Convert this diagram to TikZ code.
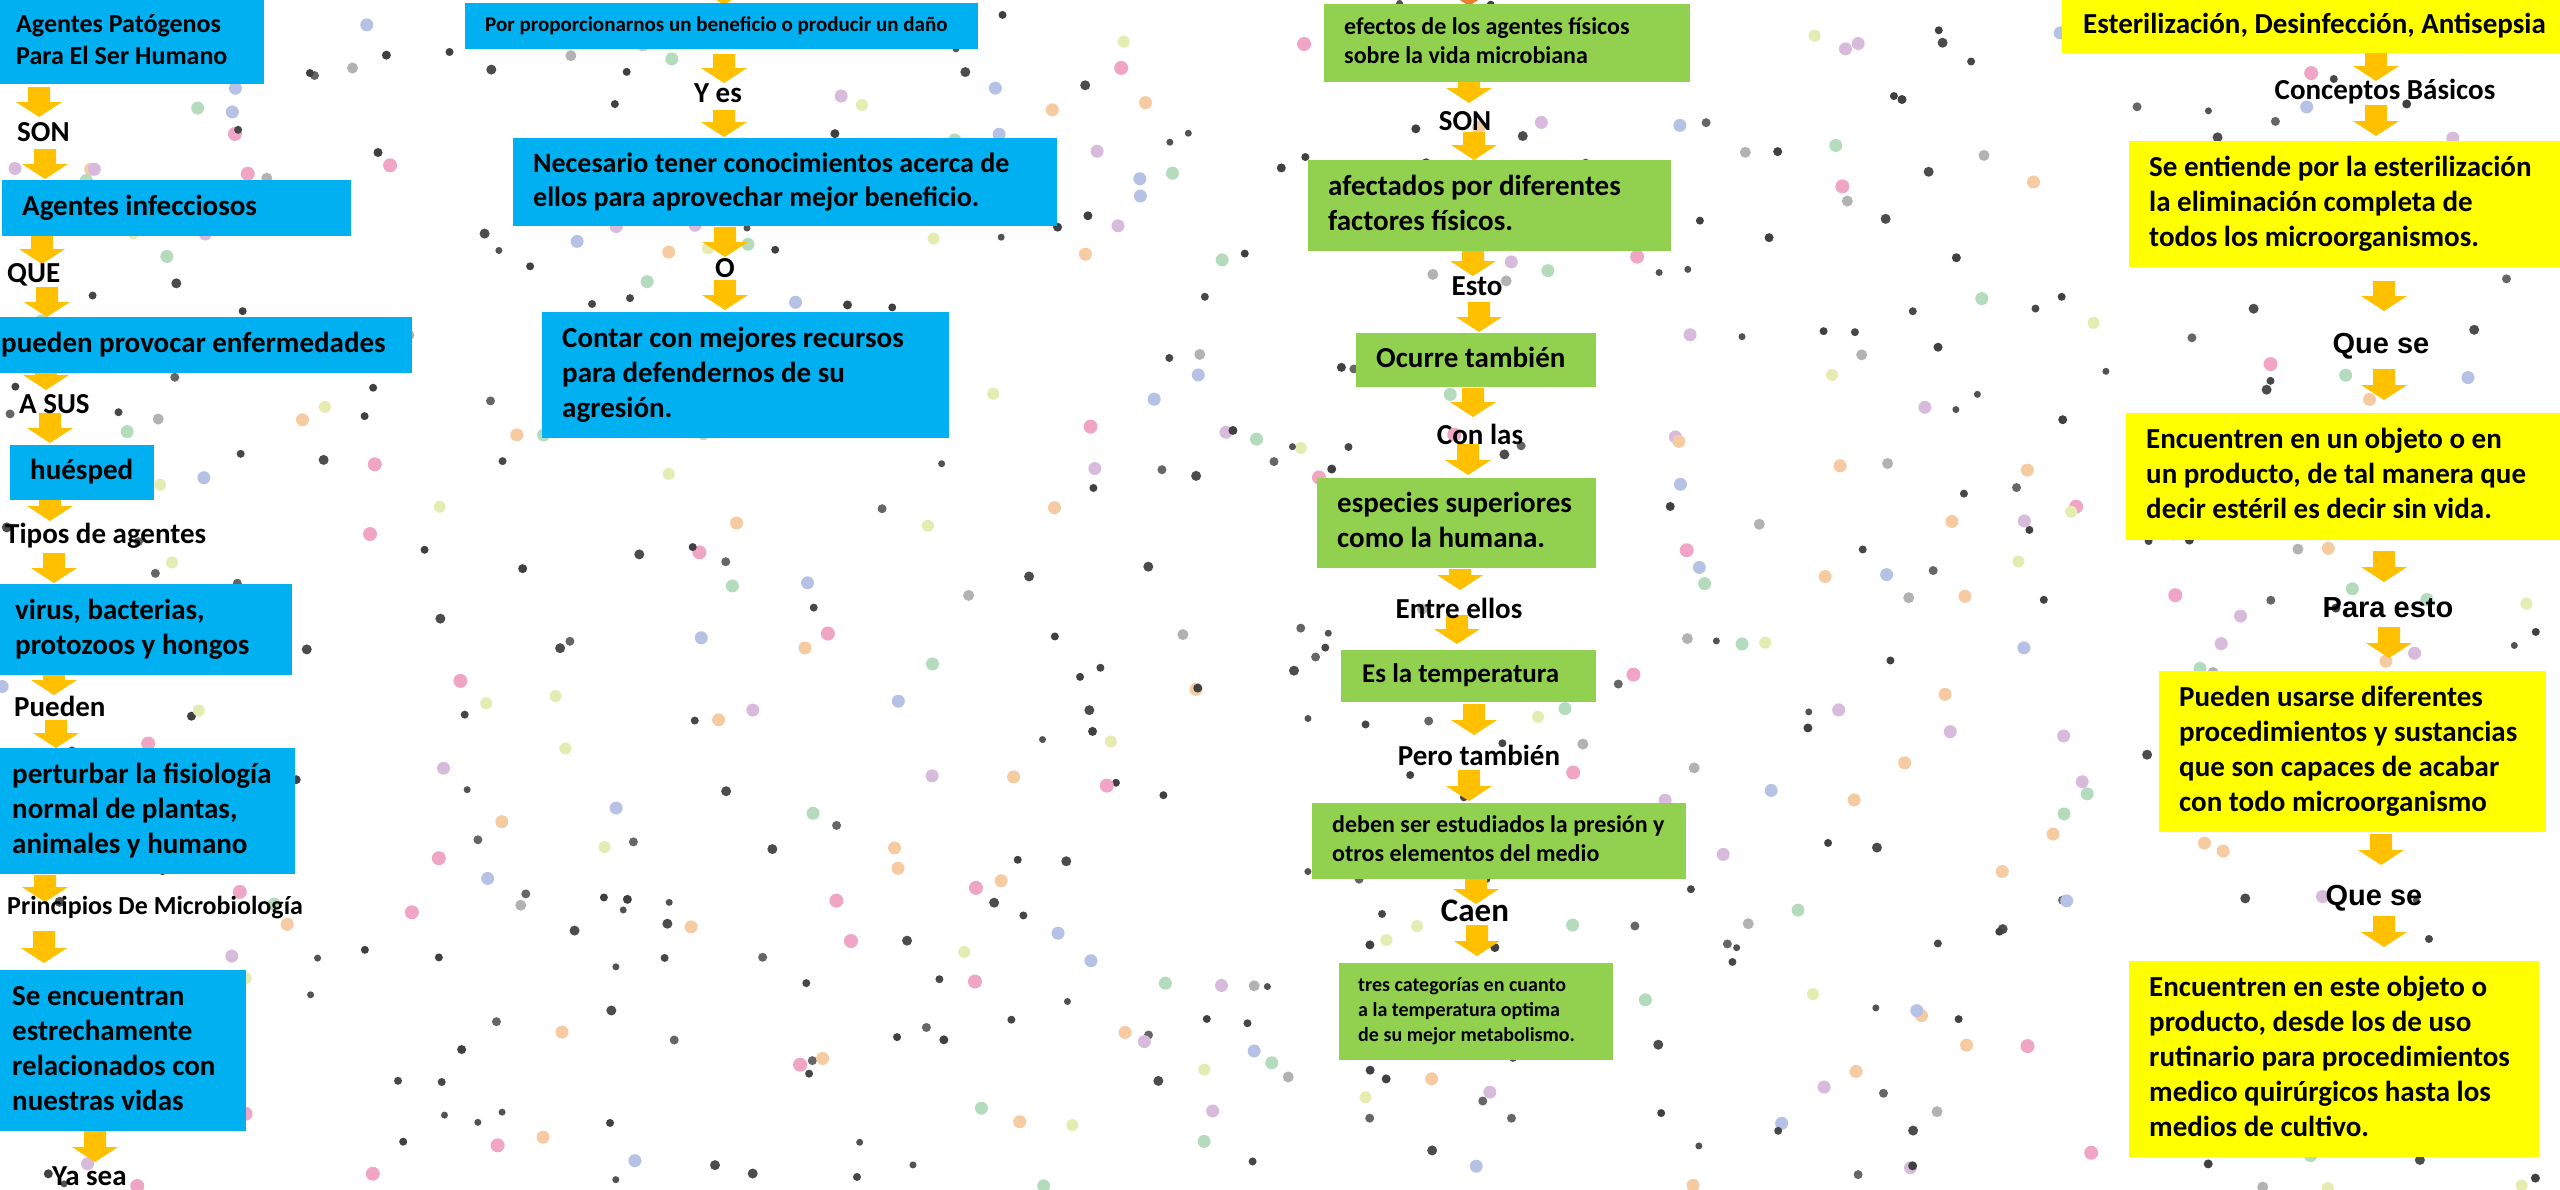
\documentclass[tikz,border=0pt]{standalone}
\usepackage{fontspec}
\setmainfont{Carlito}
\newfontfamily\arialb{Liberation Sans}
\definecolor{azulc}{HTML}{00B0F0}
\definecolor{verdec}{HTML}{92D050}
\definecolor{amarc}{HTML}{FFFF00}
\definecolor{oro}{HTML}{FFC000}
\definecolor{naranja}{HTML}{ED7D31}
\colorlet{punto0}{black!75}
\colorlet{punto1}{black!75}
\colorlet{punto2}{black!70}
\colorlet{punto3}{black!72}
\colorlet{punto4}{black!68}
\colorlet{punto5}{black!60}
\colorlet{punto6}{black!30}
\definecolor{punto7}{HTML}{F0A5C4}
\definecolor{punto8}{HTML}{D8BADC}
\definecolor{punto9}{HTML}{B5C2E6}
\definecolor{punto10}{HTML}{B4DCBC}
\definecolor{punto11}{HTML}{F6CBA2}
\definecolor{punto12}{HTML}{E5ECB2}
\begin{document}
\begin{tikzpicture}[x=1pt,y=-1pt,
  caja/.style={anchor=north west,inner sep=0pt,font=\tamA},
  azul/.style={caja,fill=azulc},
  verde/.style={caja,fill=verdec},
  amarillo/.style={caja,fill=amarc},
  rotulo/.style={inner sep=0pt,font=\tamA}]%
% medidas en px de la imagen original, y hacia abajo
\global\def\tamA{\fontsize{29pt}{35pt}\selectfont\bfseries}
\global\def\tamB{\fontsize{26pt}{32pt}\selectfont\bfseries}
\global\def\tamC{\fontsize{24pt}{29pt}\selectfont\bfseries}
\global\def\tamD{\fontsize{20pt}{25pt}\selectfont\bfseries}
\global\def\tamE{\fontsize{21pt}{26pt}\selectfont\bfseries}
\global\def\tamF{\fontsize{28pt}{34pt}\selectfont\bfseries}
\global\def\tamG{\fontsize{33pt}{40pt}\selectfont\bfseries}
\global\def\tamH{\fontsize{26pt}{32pt}\selectfont\bfseries}
\global\def\tamT{\fontsize{27pt}{33pt}\selectfont\bfseries}
\global\def\tamQ{\arialb\fontsize{29pt}{35pt}\selectfont\bfseries}
\global\def\lineas#1#2#3{\makebox[#1pt][l]{\hspace*{#2pt}\begin{tabular}{@{}l@{}}#3\end{tabular}}}
\global\def\flecha#1#2#3{\fill[oro] (#1-11,#2) -- (#1+11,#2) -- (#1+11,#3-15)
  -- (#1+23,#3-15) -- (#1,#3) -- (#1-23,#3-15) -- (#1-11,#3-15) -- cycle;}
\fill[white] (0,0) rectangle (2560,1189);
\useasboundingbox (0,0) rectangle (2560,1189);
\pgfmathsetseed{31}
\foreach \k in {1,...,680}{
  \pgfmathsetmacro\px{rnd*2560}
  \pgfmathsetmacro\py{rnd*1189}
  \pgfmathtruncatemacro\pc{random(0,12)}
  \pgfmathsetmacro\pr{{4.5,4,5,4,3.5,4.5,5.5,7,6.5,6.5,6.5,6.5,6}[\pc]}
  \fill[punto\pc] (\px,\py) circle (\pr pt);
}
% columna 1
\flecha{39}{87}{117}
\flecha{45}{149}{179}
\flecha{42}{236}{264}
\flecha{47}{287}{317}
\flecha{46}{373}{390}
\flecha{50}{413}{443}
\flecha{50}{500}{521}
\flecha{54}{553}{583}
\flecha{54}{675}{695}
\flecha{56}{720}{748}
\flecha{45}{875}{902}
\flecha{44}{931}{963}
\flecha{95}{1131}{1162}
\node[azul,minimum height=84pt,font=\tamB] (patogenos) at (0,0)
  {\lineas{264}{16}{Agentes Patógenos\\Para El Ser Humano}};
\node[rotulo,anchor=west] (son) at (17,132) {SON};
\node[azul,minimum height=56pt] (infecciosos) at (2,180)
  {\lineas{349}{20}{Agentes infecciosos}};
\node[rotulo,anchor=west] (que) at (7,275) {QUE};
\node[azul,minimum height=56pt] (enfermedades) at (0,317)
  {\lineas{412}{1}{pueden provocar enfermedades}};
\node[rotulo,anchor=west] (asus) at (19,404) {A SUS};
\node[azul,minimum height=55pt] (huesped) at (10,445)
  {\lineas{144}{20}{huésped}};
\node[rotulo,anchor=west] (tipos) at (5,536) {Tipos de agentes};
\node[azul,minimum height=91pt] (virus) at (0,584)
  {\lineas{292}{15}{virus, bacterias,\\protozoos y hongos}};
\node[rotulo,anchor=west] (pueden) at (14,706) {Pueden};
\node[azul,minimum height=126pt] (fisiologia) at (0,748)
  {\lineas{295}{12}{perturbar la fisiología\\normal de plantas,\\animales y humano}};
\node[rotulo,anchor=west,font=\tamH] (principios) at (7,908) {Principios De Microbiología};
\node[azul,minimum height=161pt] (relacion) at (0,970)
  {\lineas{246}{12}{Se encuentran\\estrechamente\\relacionados con\\nuestras vidas}};
\node[rotulo,anchor=west] (yasea) at (52,1176) {Ya sea};
% columna 2
\flecha{724}{-20}{5}
\flecha{724}{54}{83}
\flecha{724}{110}{137}
\flecha{725}{227}{257}
\flecha{725}{280}{310}
\node[azul,minimum height=46pt,font=\tamE] (beneficio) at (465,3)
  {\lineas{513}{20}{Por proporcionarnos un beneficio o producir un daño}};
\node[rotulo] (yes) at (718,93) {Y es};
\node[azul,minimum height=88pt,font=\tamF] (necesario) at (513,138)
  {\lineas{544}{20}{Necesario tener conocimientos acerca de\\ellos para aprovechar mejor beneficio.}};
\node[rotulo] (o) at (725,268) {O};
\node[azul,minimum height=126pt] (recursos) at (542,312)
  {\lineas{407}{20}{Contar con mejores recursos\\para defendernos de su\\agresión.}};
% columna 3
\fill[naranja] (1458,-20) -- (1480,-20) -- (1480,-9) -- (1492,-9) -- (1469,6) -- (1446,-9) -- (1458,-9) -- cycle;
\flecha{1469}{82}{103}
\flecha{1474}{132}{160}
\flecha{1473}{251}{276}
\flecha{1479}{302}{332}
\flecha{1473}{388}{417}
\flecha{1468}{444}{475}
\flecha{1460}{569}{590}
\flecha{1457}{615}{644}
\flecha{1474}{704}{735}
\flecha{1469}{770}{801}
\flecha{1476}{879}{904}
\flecha{1477}{925}{956}
\node[verde,minimum height=78pt,font=\tamC] (efectos) at (1324,4)
  {\lineas{366}{20}{efectos de los agentes físicos\\sobre la vida microbiana}};
\node[rotulo] (son2) at (1465,121) {SON};
\node[verde,minimum height=91pt] (afectados) at (1308,160)
  {\lineas{363}{20}{afectados por diferentes\\factores físicos.}};
\node[rotulo] (esto) at (1477,286) {Esto};
\node[verde,minimum height=54pt] (ocurre) at (1356,333)
  {\lineas{240}{20}{Ocurre también}};
\node[rotulo] (conlas) at (1480,434) {Con las};
\node[verde,minimum height=90pt] (especies) at (1317,478)
  {\lineas{279}{20}{especies superiores\\como la humana.}};
\node[rotulo] (entre) at (1459,608) {Entre ellos};
\node[verde,minimum height=52pt,font=\tamT] (temperatura) at (1341,650)
  {\lineas{255}{21}{Es la temperatura}};
\node[rotulo] (pero) at (1479,755) {Pero también};
\node[verde,minimum height=76pt,font=\tamC] (presion) at (1312,803)
  {\lineas{374}{20}{deben ser estudiados la presión y\\otros elementos del medio}};
\node[rotulo,font=\tamG] (caen) at (1475,911) {Caen};
\node[verde,minimum height=97pt,font=\tamD] (categorias) at (1339,963)
  {\lineas{274}{19}{tres categorías en cuanto\\a la temperatura optima\\de su mejor metabolismo.}};
% columna 4
\flecha{2376}{51}{81}
\flecha{2376}{105}{136}
\flecha{2384}{281}{311}
\flecha{2384}{369}{400}
\flecha{2384}{551}{582}
\flecha{2389}{627}{658}
\flecha{2381}{834}{865}
\flecha{2384}{916}{947}
\node[amarillo,minimum height=53pt] (esterilizacion) at (2062,0)
  {\lineas{498}{21}{Esterilización, Desinfección, Antisepsia}};
\node[rotulo] (basicos) at (2385,92) {Conceptos Básicos};
\node[amarillo,minimum height=126pt] (definicion) at (2129,141)
  {\lineas{431}{20}{Se entiende por la esterilización\\la eliminación completa de\\todos los microorganismos.}};
\node[rotulo,font=\tamQ] (quese) at (2381,346) {Que se};
\node[amarillo,minimum height=127pt] (sinvida) at (2126,413)
  {\lineas{434}{20}{Encuentren en un objeto o en\\un producto, de tal manera que\\decir estéril es decir sin vida.}};
\node[rotulo,font=\tamQ] (paraesto) at (2388,608) {Para esto};
\node[amarillo,minimum height=161pt] (sustancias) at (2159,671)
  {\lineas{387}{20}{Pueden usarse diferentes\\procedimientos y sustancias\\que son capaces de acabar\\con todo microorganismo}};
\node[rotulo,font=\tamQ] (quese2) at (2374,898) {Que se};
\node[amarillo,minimum height=196pt] (cultivo) at (2129,961)
  {\lineas{410}{20}{Encuentren en este objeto o\\producto, desde los de uso\\rutinario para procedimientos\\medico quirúrgicos hasta los\\medios de cultivo.}};
\end{tikzpicture}
\end{document}
